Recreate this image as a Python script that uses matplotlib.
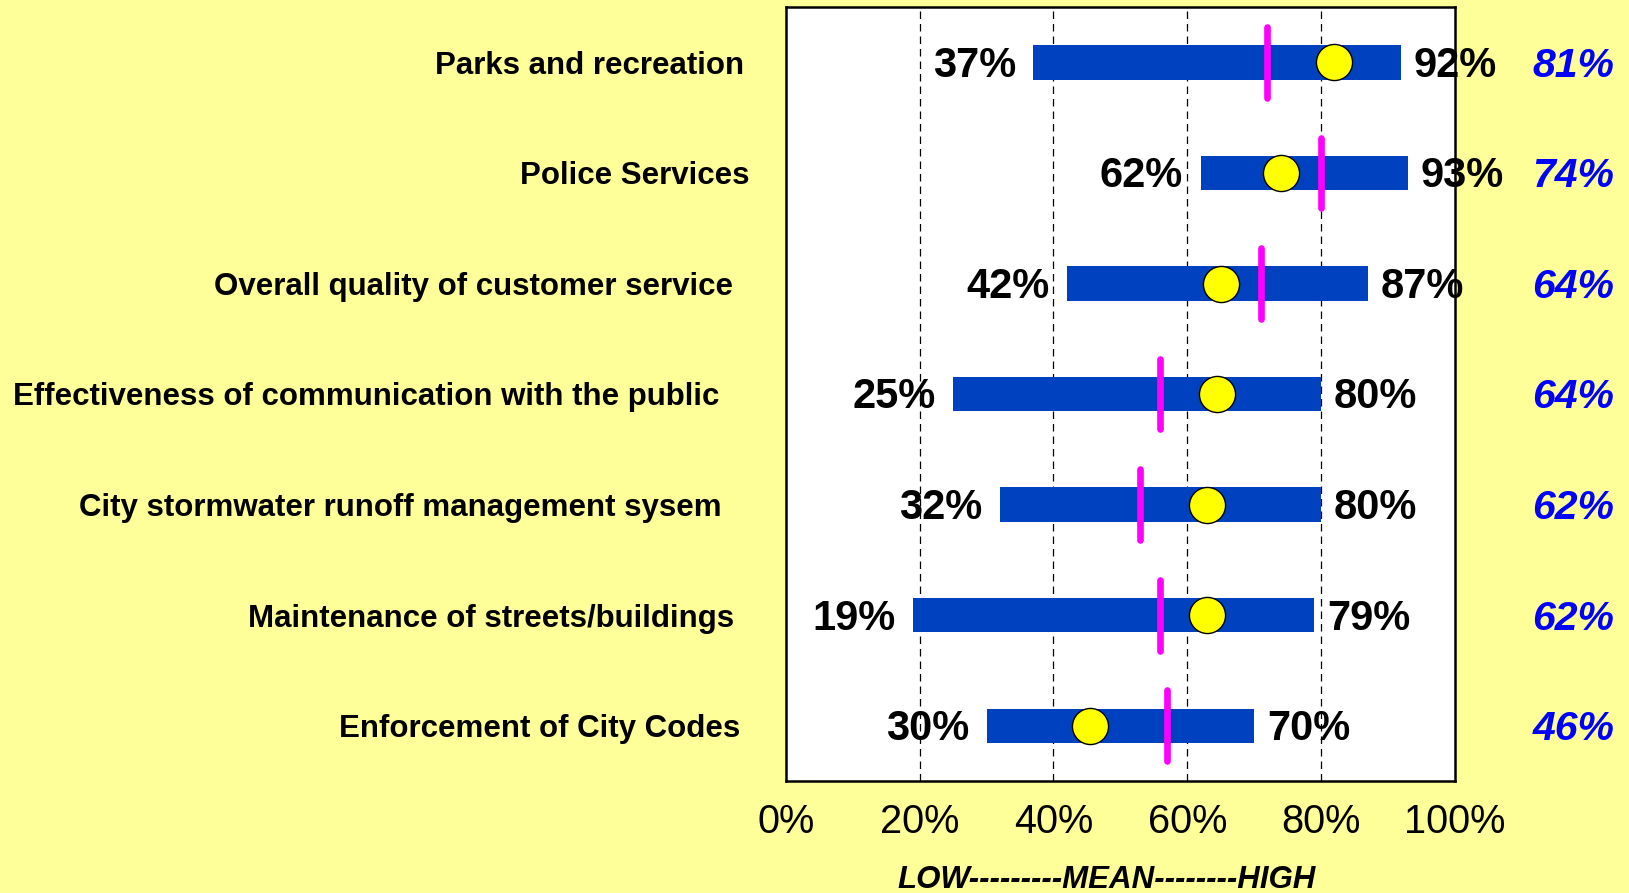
import matplotlib
matplotlib.use("Agg")
import matplotlib.pyplot as plt

categories = [
    "Parks and recreation",
    "Police Services",
    "Overall quality of customer service",
    "Effectiveness of communication with the public",
    "City stormwater runoff management sysem",
    "Maintenance of streets/buildings",
    "Enforcement of City Codes",
]
low = [37, 62, 42, 25, 32, 19, 30]
high = [92, 93, 87, 80, 80, 79, 70]
mean = [72, 80, 71, 56, 53, 56, 57]
city = [82, 74, 65, 64.5, 63, 63, 45.5]
city_labels = ["81%", "74%", "64%", "64%", "62%", "62%", "46%"]
xticks = [0, 20, 40, 60, 80, 100]
xtick_labels = ["0%", "20%", "40%", "60%", "80%", "100%"]
axis_caption = "LOW---------MEAN--------HIGH"

# layout: right edge of each category label in figure pixels
label_right_px = [744, 750, 733, 719, 722, 734, 740]

plt.rcParams['font.family'] = ['Liberation Sans', 'DejaVu Sans']

W, H = 1629, 893
fig = plt.figure(figsize=(W / 100, H / 100), dpi=100)
fig.patch.set_facecolor('#FFFF99')
ax = fig.add_axes([0.4825, 0.1254, 0.893 - 0.4825, 0.992 - 0.1254])
ax.set_facecolor('white')
ax.set_xlim(0, 100)
n = len(categories)
ax.set_ylim(n - 0.5, -0.5)

for x in xticks[1:-1]:
    ax.axvline(x, color='black', lw=0.9, ls=(0, (6, 4)), zorder=1)

dy = 0.03
for i in range(n):
    ax.barh(i, high[i] - low[i], left=low[i], height=0.31, color='#0041BF', zorder=2)
    ax.plot([city[i]], [i], marker='o', ms=26, mfc='#FFFF00', mec='black', mew=1.0,
            zorder=3, linestyle='none')
    ax.plot([mean[i], mean[i]], [i - 0.32, i + 0.32], color='#FF00FF', lw=4.8,
            solid_capstyle='round', zorder=4)
    ax.text(low[i] - 2.6, i + dy, f"{low[i]}%", ha='right', va='center', fontsize=30,
            fontweight='bold', zorder=5)
    ax.text(high[i] + 1.9, i + dy, f"{high[i]}%", ha='left', va='center', fontsize=30,
            fontweight='bold', zorder=5, clip_on=False)
    ax.text(123.9, i + dy, city_labels[i], ha='right', va='center', fontsize=29.5,
            fontweight='bold', fontstyle='italic', color='#0000FF', clip_on=False)
    # category label
    yfig = ax.transData.transform((0, i + dy))[1]
    fig.text(label_right_px[i] / W, yfig / H, categories[i], ha='right', va='center',
             fontsize=22.5, fontweight='bold')

ax.set_xticks(xticks)
ax.set_xticklabels(xtick_labels, fontsize=28.6)
ax.tick_params(axis='x', length=0, pad=16)
ax.set_yticks([])
for s in ax.spines.values():
    s.set_linewidth(1.8)
    s.set_color('black')

ax.text(48, -0.128, axis_caption, transform=ax.get_xaxis_transform(), ha='center',
        va='center', fontsize=22.5, fontweight='bold', fontstyle='italic', clip_on=False)

fig.savefig('out.png', dpi=100, facecolor=fig.get_facecolor())
